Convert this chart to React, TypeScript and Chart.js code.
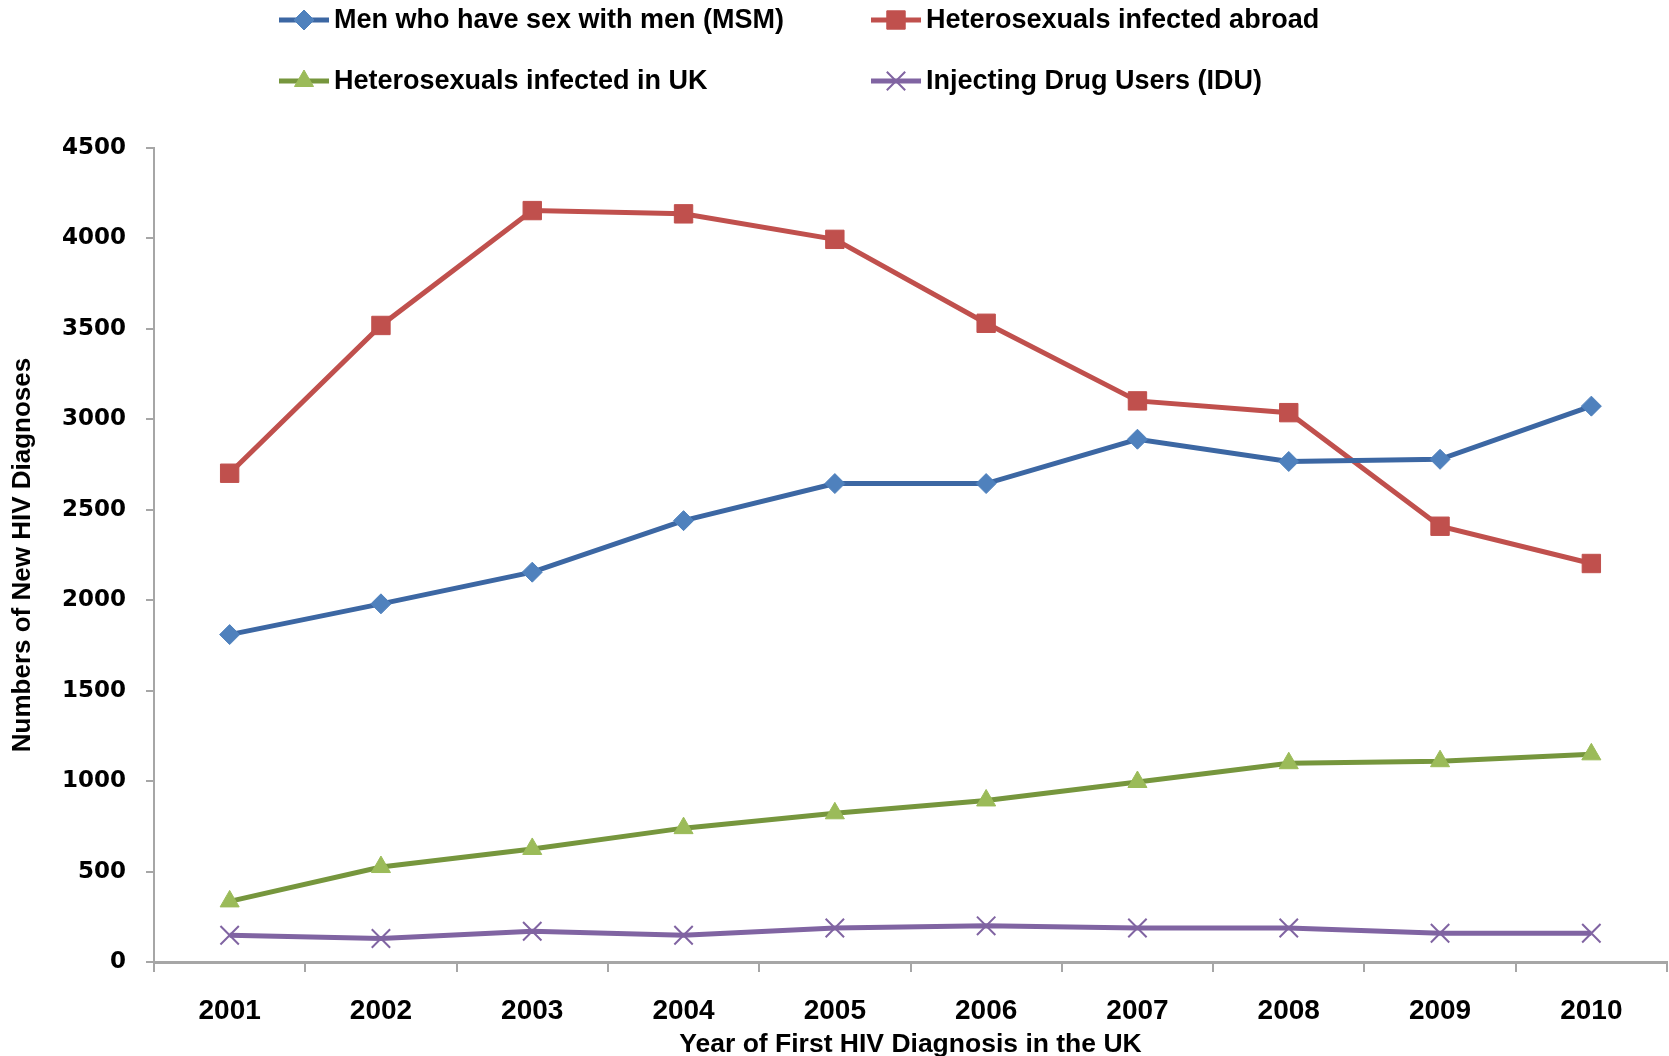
import React, { useEffect, useRef } from "react";
import { Chart, registerables } from "chart.js";
import { drawPoint } from "chart.js/helpers";

Chart.register(...registerables);

const years = ["2001", "2002", "2003", "2004", "2005", "2006", "2007", "2008", "2009", "2010"];
const msm = [1810, 1980, 2155, 2440, 2645, 2645, 2890, 2767, 2779, 3073];
const heteroAbroad = [2702, 3519, 4154, 4136, 3995, 3531, 3102, 3037, 2409, 2203];
const heteroUK = [335, 525, 625, 740, 822, 893, 995, 1099, 1110, 1148];
const idu = [148, 130, 170, 148, 188, 200, 188, 188, 159, 159];
const seriesNames = [
  "Men who have sex with men (MSM)",
  "Heterosexuals infected abroad",
  "Heterosexuals infected in UK",
  "Injecting Drug Users (IDU)",
];
const yTitle = "Numbers of New HIV Diagnoses";
const xTitle = "Year of First HIV Diagnosis in the UK";

const AXIS_GREY = "#A6A6A6";

const legendPlugin = {
  id: "customLegend",
  afterDraw(chart: any) {
    const ctx = chart.ctx;
    const cols = [279, 871];
    const rows = [20, 81];
    const lineLen = 50;
    chart.data.datasets.forEach((ds: any, i: number) => {
      const x0 = cols[i % 2];
      const y = rows[Math.floor(i / 2)];
      ctx.save();
      ctx.strokeStyle = ds.borderColor;
      ctx.lineWidth = ds.borderWidth;
      ctx.beginPath();
      ctx.moveTo(x0, y);
      ctx.lineTo(x0 + lineLen, y);
      ctx.stroke();
      ctx.fillStyle = ds.pointBackgroundColor;
      ctx.strokeStyle = ds.pointBorderColor;
      ctx.lineWidth = ds.pointBorderWidth;
      drawPoint(ctx, { pointStyle: ds.pointStyle, radius: ds.pointRadius, rotation: 0, borderWidth: ds.pointBorderWidth }, x0 + lineLen / 2, y);
      ctx.fillStyle = "#000";
      ctx.font = "bold 27px 'Liberation Sans', Arial, sans-serif";
      ctx.textBaseline = "middle";
      ctx.textAlign = "left";
      ctx.fillText(ds.label, x0 + lineLen + 5, y + 1);
      ctx.restore();
    });
  },
};

export default function App() {
  const ref = useRef<HTMLCanvasElement>(null);
  useEffect(() => {
    document.body.style.margin = "0";
    const ctx = ref.current!.getContext("2d")!;
    const chart = new Chart(ctx, {
      type: "line",
      data: {
        labels: years,
        datasets: [
          {
            label: seriesNames[0],
            data: msm,
            borderColor: "#3C67A3",
            borderWidth: 5,
            pointStyle: "rectRot",
            pointRadius: 10,
            pointBackgroundColor: "#4F81BD",
            pointBorderColor: "#4F81BD",
            pointBorderWidth: 1,
          },
          {
            label: seriesNames[1],
            data: heteroAbroad,
            borderColor: "#C0504D",
            borderWidth: 5,
            pointStyle: "rect",
            pointRadius: 13,
            pointBackgroundColor: "#C0504D",
            pointBorderColor: "#C0504D",
            pointBorderWidth: 1,
          },
          {
            label: seriesNames[2],
            data: heteroUK,
            borderColor: "#76963D",
            borderWidth: 5,
            pointStyle: "triangle",
            pointRadius: 11,
            pointBackgroundColor: "#9BBB59",
            pointBorderColor: "#9BBB59",
            pointBorderWidth: 1,
          },
          {
            label: seriesNames[3],
            data: idu,
            borderColor: "#8064A2",
            borderWidth: 5,
            pointStyle: "crossRot",
            pointRadius: 13,
            pointBackgroundColor: "#8064A2",
            pointBorderColor: "#8064A2",
            pointBorderWidth: 2,
          },
        ],
      },
      options: {
        responsive: false,
        animation: false,
        layout: { autoPadding: false, padding: { top: 148, right: 2, left: 0, bottom: 0 } },
        plugins: {
          legend: { display: false },
          tooltip: { enabled: false },
        },
        scales: {
          x: {
            type: "category",
            offset: true,
            afterFit: (s: any) => {
              s.height = 94;
              s.paddingLeft = 0;
              s.paddingRight = 0;
            },
            grid: {
              offset: true,
              drawOnChartArea: false,
              drawTicks: true,
              tickLength: 10,
              color: AXIS_GREY,
              lineWidth: 2,
            },
            border: { display: true, color: AXIS_GREY, width: 3 },
            ticks: {
              color: "#000",
              padding: 22,
              font: { family: "'Liberation Sans', Arial, sans-serif", weight: "bold", size: 28 },
              maxRotation: 0,
            },
            title: {
              display: true,
              text: xTitle,
              color: "#000",
              font: { family: "'Liberation Sans', Arial, sans-serif", weight: "bold", size: 26.5, lineHeight: 0.85 },
              padding: { top: 0, bottom: 0 },
            },
          },
          y: {
            min: 0,
            max: 4500,
            afterFit: (s: any) => {
              s.width = 154;
              s.paddingTop = 0;
              s.paddingBottom = 0;
            },
            ticks: {
              stepSize: 500,
              color: "#000",
              padding: 20,
              callback: (v: any) => String(v),
              font: { family: "'DejaVu Sans', Verdana, sans-serif", weight: "bold", size: 23 },
            },
            grid: {
              drawOnChartArea: false,
              drawTicks: true,
              tickLength: 8,
              color: AXIS_GREY,
              lineWidth: 2,
            },
            border: { display: true, color: AXIS_GREY, width: 2 },
            title: {
              display: true,
              text: yTitle,
              color: "#000",
              font: { family: "'Liberation Sans', Arial, sans-serif", weight: "bold", size: 26, lineHeight: 1 },
              padding: { top: 10, bottom: 0 },
            },
          },
        },
      },
      plugins: [legendPlugin],
    } as any);
    return () => chart.destroy();
  }, []);
  return (
    <div style={{ position: "absolute", left: 0, top: 0, width: 1669, height: 1056, background: "#fff" }}>
      <canvas ref={ref} width={1669} height={1056} />
    </div>
  );
}
